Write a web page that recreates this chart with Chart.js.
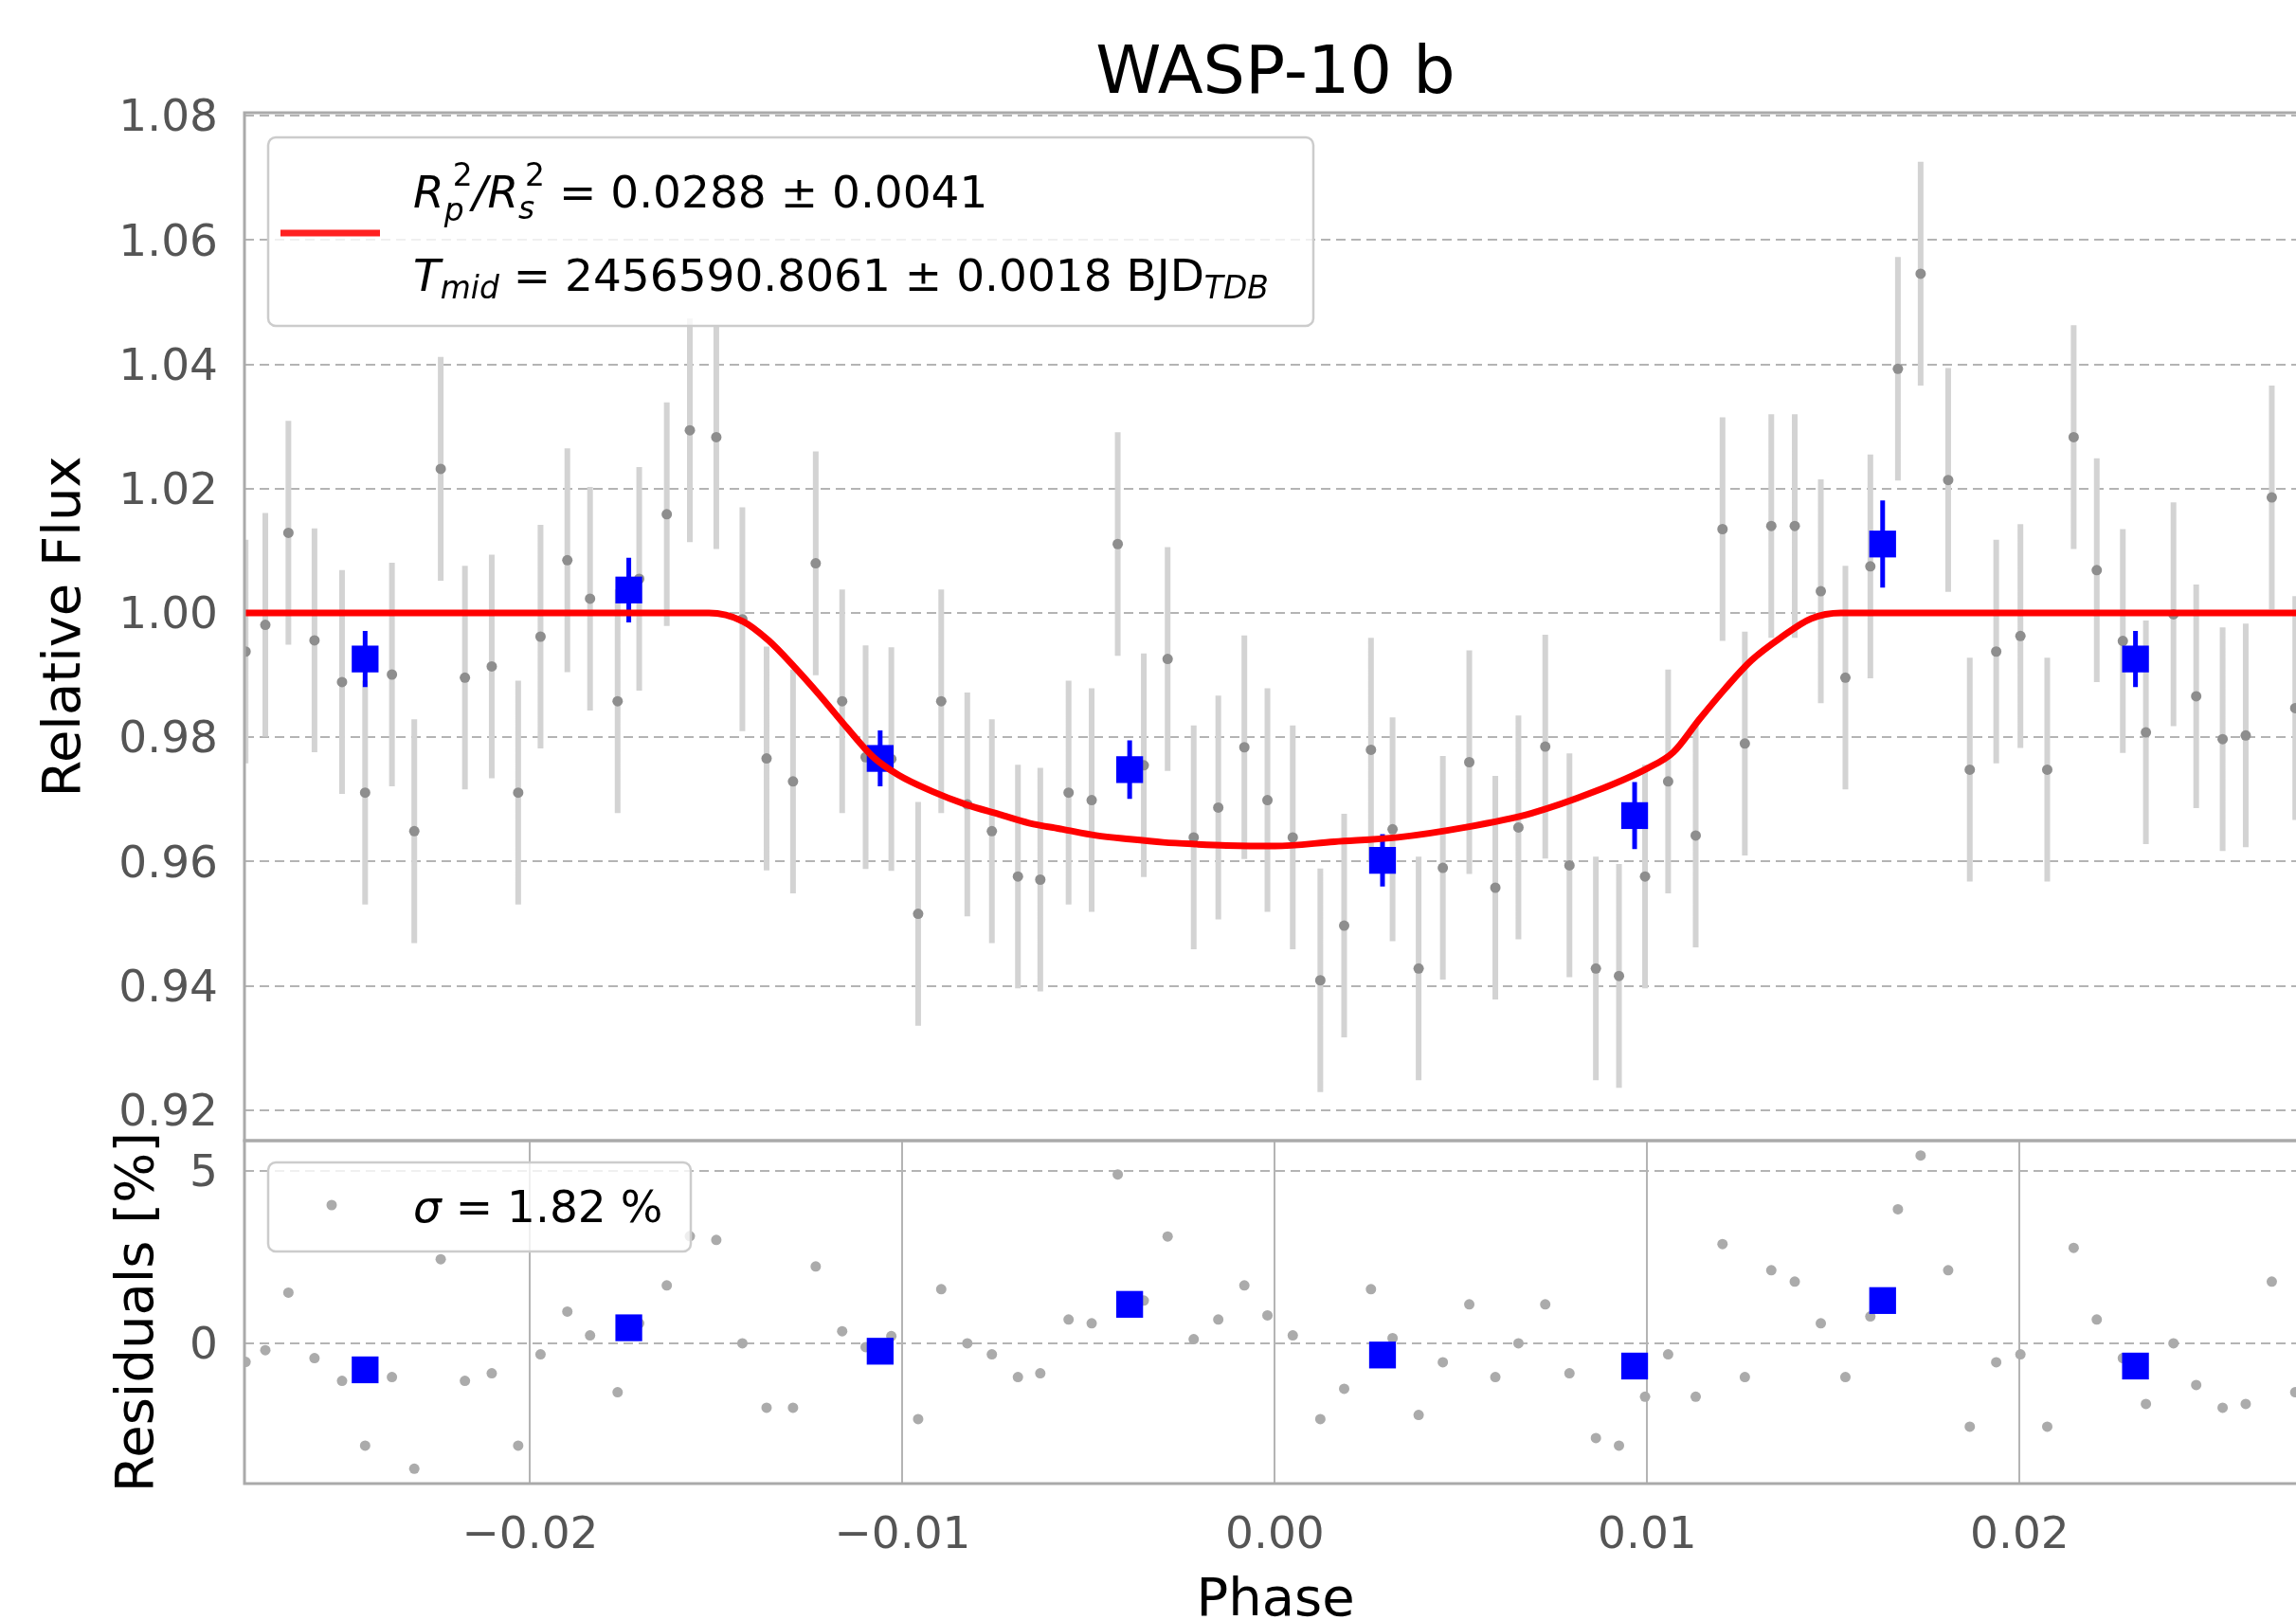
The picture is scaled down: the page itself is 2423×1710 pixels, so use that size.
<!DOCTYPE html>
<html>
<head>
<meta charset="utf-8">
<script src="https://cdn.jsdelivr.net/npm/chart.js@4.4.1/dist/chart.umd.min.js"></script>
<style>
  html, body { margin: 0; padding: 0; background: #fff; overflow: hidden; }
  #wrap { position: relative; width: 2423px; height: 1710px; overflow: hidden; background: #fff; }
  canvas { position: absolute; left: 0; }
  #flux { top: 0; }
  #resid { top: 1190px; }
</style>
</head>
<body>
<div id="wrap">
  <canvas id="flux" width="2440" height="1206"></canvas>
  <canvas id="resid" width="2440" height="540"></canvas>
</div>
<script>
// unbinned exposures
const phase = [
  -0.02764, -0.02711, -0.02649, -0.02579, -0.02505, -0.02443, -0.02371, -0.02311, -0.02240, -0.02175,
  -0.02103, -0.02032, -0.01972, -0.01900, -0.01839, -0.01765, -0.01707, -0.01633, -0.01571, -0.01500,
  -0.01430, -0.01365, -0.01294, -0.01233, -0.01162, -0.01099, -0.01030, -0.00958, -0.00896, -0.00826,
  -0.00760, -0.00690, -0.00630, -0.00554, -0.00492, -0.00422, -0.00352, -0.00288, -0.00218, -0.00152,
  -0.00082, -0.00020, 0.00048, 0.00122, 0.00186, 0.00258, 0.00316, 0.00386, 0.00451, 0.00522,
  0.00592, 0.00654, 0.00726, 0.00791, 0.00862, 0.00924, 0.00994, 0.01056, 0.01130, 0.01202,
  0.01262, 0.01333, 0.01396, 0.01466, 0.01532, 0.01599, 0.01673, 0.01734, 0.01808, 0.01866,
  0.01937, 0.02002, 0.02074, 0.02145, 0.02207, 0.02277, 0.02339, 0.02413, 0.02474, 0.02545,
  0.02607, 0.02677, 0.02740
];
const flux = [
  0.9938, 0.9981, 1.0129, 0.9956, 0.9889, 0.9711, 0.9901, 0.9649, 1.0232, 0.9896,
  0.9914, 0.9711, 0.9962, 1.0085, 1.0023, 0.9858, 1.0055, 1.0159, 1.0294, 1.0283,
  0.9990, 0.9766, 0.9729, 1.0080, 0.9858, 0.9768, 0.9765, 0.9516, 0.9858, 0.9692,
  0.9649, 0.9576, 0.9571, 0.9711, 0.9699, 1.0111, 0.9755, 0.9926, 0.9639, 0.9687,
  0.9784, 0.9699, 0.9639, 0.9409, 0.9497, 0.9780, 0.9652, 0.9428, 0.9590, 0.9760,
  0.9558, 0.9655, 0.9785, 0.9594, 0.9428, 0.9416, 0.9576, 0.9729, 0.9642, 1.0135,
  0.9790, 1.0140, 1.0140, 1.0035, 0.9896, 1.0075, 1.0393, 1.0546, 1.0214, 0.9748,
  0.9938, 0.9963, 0.9748, 1.0283, 1.0069, 0.9955, 0.9808, 0.9998, 0.9866, 0.9797,
  0.9803, 1.0186, 0.9847
];
const fluxErr = [
  0.018, 0.018, 0.018, 0.018, 0.018, 0.018, 0.018, 0.018, 0.018, 0.018,
  0.018, 0.018, 0.018, 0.018, 0.018, 0.018, 0.018, 0.018, 0.018, 0.018,
  0.018, 0.018, 0.018, 0.018, 0.018, 0.018, 0.018, 0.018, 0.018, 0.018,
  0.018, 0.018, 0.018, 0.018, 0.018, 0.018, 0.018, 0.018, 0.018, 0.018,
  0.018, 0.018, 0.018, 0.018, 0.018, 0.018, 0.018, 0.018, 0.018, 0.018,
  0.018, 0.018, 0.018, 0.018, 0.018, 0.018, 0.018, 0.018, 0.018, 0.018,
  0.018, 0.018, 0.018, 0.018, 0.018, 0.018, 0.018, 0.018, 0.018, 0.018,
  0.018, 0.018, 0.018, 0.018, 0.018, 0.018, 0.018, 0.018, 0.018, 0.018,
  0.018, 0.018, 0.018
];
// residuals in percent
const residual = [
  -0.54, -0.20, 1.47, -0.43, -1.09, -2.97, -0.98, -3.64, 2.44, -1.09,
  -0.87, -2.97, -0.32, 0.92, 0.23, -1.42, 0.58, 1.68, 3.11, 3.00,
  0.00, -1.87, -1.87, 2.23, 0.35, -0.11, 0.21, -2.20, 1.57, 0.00,
  -0.32, -0.98, -0.87, 0.69, 0.58, 4.90, 1.24, 3.10, 0.12, 0.69,
  1.68, 0.81, 0.23, -2.20, -1.32, 1.57, 0.15, -2.08, -0.55, 1.13,
  -0.98, 0.00, 1.13, -0.87, -2.75, -2.97, -1.55, -0.32, -1.55, 2.88,
  -0.98, 2.12, 1.79, 0.58, -0.98, 0.78, 3.89, 5.45, 2.12, -2.42,
  -0.55, -0.32, -2.42, 2.77, 0.69, -0.43, -1.76, 0.00, -1.21, -1.87,
  -1.76, 1.79, -1.42
];

// binned points
const binPhase = [-0.02443, -0.01735, -0.01060, -0.00390, 0.00289, 0.00966, 0.01632, 0.02311];
const binFlux = [0.9926, 1.0037, 0.9766, 0.9748, 0.9602, 0.9674, 1.0111, 0.9926];
const binErr = [0.0045, 0.0052, 0.0045, 0.0047, 0.0042, 0.0054, 0.0070, 0.0045];
const binResidual = [-0.77, 0.45, -0.23, 1.13, -0.34, -0.66, 1.24, -0.66];

// transit model
const modelPhase = [
  -0.0277, -0.0152, -0.0143, -0.0136, -0.0129, -0.0122, -0.0115, -0.0108, -0.0101, -0.0092,
  -0.0083, -0.0074, -0.0066, -0.0057, -0.0048, -0.0039, -0.0030, -0.0021, -0.0013, 0.0000,
  0.0016, 0.0033, 0.0051, 0.0069, 0.0086, 0.0100, 0.0107, 0.0114, 0.0121, 0.0128,
  0.0136, 0.0144, 0.0152, 0.0277
];
const modelFlux = [
  1.0000, 1.0000, 0.9987, 0.9956, 0.9913, 0.9866, 0.9816, 0.9769, 0.9739, 0.9713,
  0.9692, 0.9676, 0.9662, 0.9652, 0.9642, 0.9636, 0.9631, 0.9628, 0.9626, 0.9625,
  0.9632, 0.9639, 0.9655, 0.9678, 0.9713, 0.9750, 0.9776, 0.9829, 0.9879, 0.9924,
  0.9961, 0.9991, 1.0000, 1.0000
];

const fluxTicks = [0.92, 0.94, 0.96, 0.98, 1.00, 1.02, 1.04, 1.06, 1.08];
const residTicks = [0, 5];
const phaseTicks = [-0.02, -0.01, 0.00, 0.01, 0.02];

const FAMILY = "'DejaVu Sans'";
const GRID = '#b4b4b4';

const xy = (xs, ys) => xs.map((x, i) => ({x: x, y: ys[i]}));

// vertical error bars as broken line segments
function errSegments(xs, ys, es) {
  const out = [];
  xs.forEach((x, i) => {
    out.push({x: x, y: ys[i] - es[i]}, {x: x, y: ys[i] + es[i]}, {x: x, y: null});
  });
  return out;
}

function font(size, italic) {
  return (italic ? 'italic ' : '') + size + 'px ' + FAMILY;
}

// little mathtext-ish renderer for the legend labels
function drawMath(ctx, x, y, size, parts) {
  const small = size * 0.7;
  ctx.textBaseline = 'alphabetic';
  ctx.textAlign = 'left';
  for (const p of parts) {
    if (p.t !== undefined) {
      ctx.font = font(size, p.i);
      ctx.fillText(p.t, x, y);
      x += ctx.measureText(p.t).width;
    } else {
      let w = 0;
      if (p.sup) {
        ctx.font = font(small, false);
        ctx.fillText(p.sup, x + p.dx, y - size * 0.5);
        w = Math.max(w, p.dx + ctx.measureText(p.sup).width);
      }
      if (p.sub) {
        ctx.font = font(small, true);
        ctx.fillText(p.sub, x, y + p.drop);
        w = Math.max(w, ctx.measureText(p.sub).width);
      }
      x += w;
    }
  }
}

function legendBox(ctx, x, y, w, h) {
  ctx.beginPath();
  ctx.roundRect(x, y, w, h, 8);
  ctx.fillStyle = 'rgba(255,255,255,0.8)';
  ctx.fill();
  ctx.strokeStyle = '#cccccc';
  ctx.lineWidth = 2.5;
  ctx.stroke();
}

// keep chart areas exactly where the layout wants them
function fixWidth(w) {
  return s => { s.width = w; s.paddingTop = 0; s.paddingBottom = 0; };
}
function fixHeight(h) {
  return s => { s.height = h; s.paddingLeft = 0; s.paddingRight = 0; };
}

const frame = {
  id: 'frame',
  afterDatasetsDraw(chart) {
    const {ctx, chartArea: a} = chart;
    ctx.save();
    ctx.strokeStyle = '#aaaaaa';
    ctx.lineWidth = 3;
    ctx.strokeRect(a.left, a.top, a.right - a.left, a.bottom - a.top);
    ctx.restore();
  }
};

const fitLegend = {
  id: 'fitLegend',
  afterDraw(chart) {
    const {ctx, chartArea: a} = chart;
    ctx.save();
    // title centred over the axes
    ctx.fillStyle = '#000';
    ctx.font = font(70, false);
    ctx.textAlign = 'center';
    ctx.textBaseline = 'alphabetic';
    ctx.fillText('WASP-10 b', (a.left + a.right) / 2, 98);

    legendBox(ctx, a.left + 25, a.top + 26, 1103, 199);
    ctx.strokeStyle = '#ff2020';
    ctx.lineWidth = 7;
    ctx.beginPath();
    ctx.moveTo(a.left + 38, a.top + 127);
    ctx.lineTo(a.left + 143, a.top + 127);
    ctx.stroke();
    ctx.fillStyle = '#000';
    drawMath(ctx, a.left + 178, a.top + 100, 47, [
      {t: 'R', i: true}, {sup: '2', dx: 9, sub: 'p', drop: 14},
      {t: '/', i: true}, {t: 'R', i: true}, {sup: '2', dx: 7, sub: 's', drop: 12},
      {t: ' = 0.0288 \u00b1 0.0041'}
    ]);
    drawMath(ctx, a.left + 178, a.top + 188, 47, [
      {t: 'T', i: true}, {sub: 'mid', drop: 8},
      {t: ' = 2456590.8061 \u00b1 0.0018 BJD'}, {sub: 'TDB', drop: 8}
    ]);
    ctx.restore();
  }
};

const sigmaLegend = {
  id: 'sigmaLegend',
  afterDraw(chart) {
    const {ctx, chartArea: a} = chart;
    ctx.save();
    legendBox(ctx, a.left + 25, a.top + 23, 446, 94);
    ctx.fillStyle = '#ababab';
    ctx.beginPath();
    ctx.arc(a.left + 92, a.top + 68, 5.5, 0, Math.PI * 2);
    ctx.fill();
    ctx.fillStyle = '#000';
    drawMath(ctx, a.left + 178, a.top + 86, 47, [{t: '\u03c3', i: true}, {t: ' = 1.82 %'}]);
    ctx.restore();
  }
};

const tickFont = {family: FAMILY, size: 47};
const titleFont = {family: FAMILY, size: 56};
const phaseLabel = v => (v < 0 ? '\u2212' : '') + Math.abs(v).toFixed(2);

new Chart(document.getElementById('flux'), {
  type: 'scatter',
  data: {
    datasets: [
      {
        type: 'line', data: errSegments(phase, flux, fluxErr), showLine: true, spanGaps: false,
        borderColor: '#d3d3d3', borderWidth: 6, pointRadius: 0, order: 5
      },
      {
        data: xy(phase, flux), pointRadius: 5.5, pointBorderWidth: 0,
        backgroundColor: '#8e8e8e', order: 4
      },
      {
        type: 'line', data: errSegments(binPhase, binFlux, binErr), showLine: true, spanGaps: false,
        borderColor: '#0000ff', borderWidth: 5, pointRadius: 0, order: 3
      },
      {
        data: xy(binPhase, binFlux), pointStyle: 'rect', pointRadius: 20, pointBorderWidth: 0,
        backgroundColor: '#0000ff', order: 2
      },
      {
        type: 'line', data: xy(modelPhase, modelFlux), showLine: true,
        borderColor: '#ff0000', borderWidth: 7, pointRadius: 0,
        cubicInterpolationMode: 'monotone', order: 1
      }
    ]
  },
  options: {
    responsive: false,
    animation: false,
    events: [],
    layout: {autoPadding: false, padding: {left: 0, right: 6, top: 119, bottom: 2}},
    plugins: {legend: {display: false}, tooltip: {enabled: false}},
    scales: {
      x: {
        type: 'linear', min: -0.02767, max: 0.0277, display: false,
        grid: {display: false}
      },
      y: {
        min: 0.9151, max: 1.0805,
        afterBuildTicks: s => { s.ticks = fluxTicks.map(v => ({value: v})); },
        afterFit: fixWidth(258),
        ticks: {font: tickFont, color: '#555', padding: 28, labelOffset: 4, callback: v => v.toFixed(2)},
        grid: {color: GRID, lineWidth: 2, drawTicks: false},
        border: {display: false, dash: [10, 6]},
        title: {display: true, text: 'Relative Flux', color: '#000', font: titleFont, padding: {top: 36, bottom: 0}}
      }
    }
  },
  plugins: [frame, fitLegend]
});

new Chart(document.getElementById('resid'), {
  type: 'scatter',
  data: {
    datasets: [
      {
        data: xy(phase, residual), pointRadius: 5.5, pointBorderWidth: 0,
        backgroundColor: '#ababab', order: 2
      },
      {
        data: xy(binPhase, binResidual), pointStyle: 'rect', pointRadius: 20, pointBorderWidth: 0,
        backgroundColor: '#0000ff', order: 1
      }
    ]
  },
  options: {
    responsive: false,
    animation: false,
    events: [],
    layout: {autoPadding: false, padding: {left: 0, right: 6, top: 14, bottom: 0}},
    plugins: {legend: {display: false}, tooltip: {enabled: false}},
    scales: {
      x: {
        type: 'linear', min: -0.02767, max: 0.0277,
        afterBuildTicks: s => { s.ticks = phaseTicks.map(v => ({value: v})); },
        afterFit: fixHeight(164),
        ticks: {font: tickFont, color: '#555', padding: 28, maxRotation: 0, callback: phaseLabel},
        grid: {color: GRID, lineWidth: 2, drawTicks: false},
        border: {display: false},
        title: {display: true, text: 'Phase', color: '#000', font: titleFont, padding: {top: 0, bottom: 6}}
      },
      y: {
        min: -4.07, max: 5.88,
        afterBuildTicks: s => { s.ticks = residTicks.map(v => ({value: v})); },
        afterFit: fixWidth(258),
        ticks: {font: tickFont, color: '#555', padding: 28, labelOffset: 4, callback: v => String(v)},
        grid: {color: GRID, lineWidth: 2, drawTicks: false},
        border: {display: false, dash: [10, 6]},
        title: {display: true, text: 'Residuals [%]', color: '#000', font: titleFont, padding: {top: 113, bottom: 0}}
      }
    }
  },
  plugins: [frame, sigmaLegend]
});
</script>
</body>
</html>
